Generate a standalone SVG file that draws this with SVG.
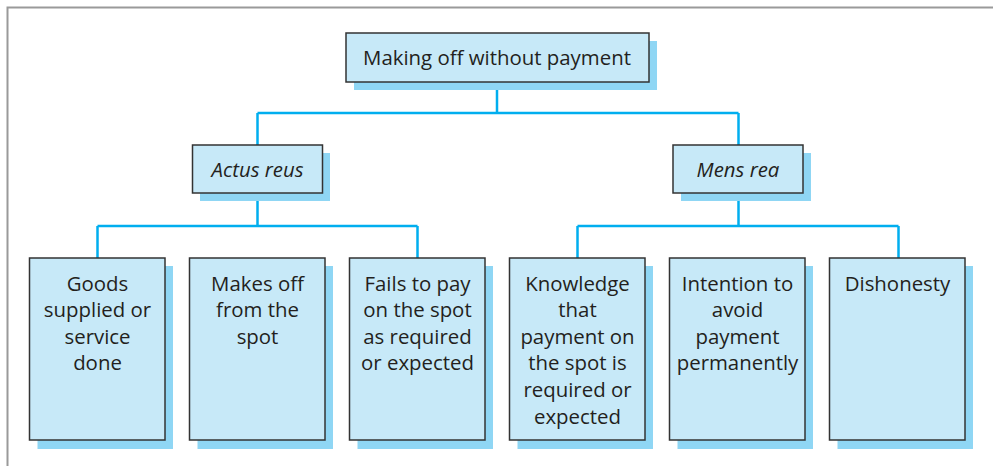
<svg xmlns="http://www.w3.org/2000/svg" width="993" height="466" viewBox="0 0 993 466">
<style>
.shadow{fill:#8fd6f4;stroke:none}
.box{fill:#c7e9f8;stroke:#333;stroke-width:1.5}
.t{font-family:"Open Sans","Noto Sans","DejaVu Sans",sans-serif;font-size:20.4px;fill:#231f20;text-anchor:middle}
.i{font-style:italic}
.conn{fill:none;stroke:#00aeef;stroke-width:2.5}
</style>
<rect x="0" y="0" width="993" height="466" fill="#fff"/>
<path d="M7.5,466 V7.5 H993" fill="none" stroke="#9a9a9a" stroke-width="2"/>
<g id="connectors" class="conn">
<path d="M497,82 V113 M257.5,113 H738.5 M257.5,113 V145 M738.5,113 V145"/>
<path d="M257.5,193 V226 M97.5,226 H417.5 M97.5,226 V258 M417.5,226 V258"/>
<path d="M738.5,193 V226 M577.5,226 H898.5 M577.5,226 V258 M898.5,226 V258"/>
</g>
<g id="root">
<rect class="shadow" x="354" y="41" width="303" height="49"/>
<rect class="box" x="346" y="33" width="303" height="49"/>
<text class="t" x="497" y="64.5">Making off without payment</text>
</g>
<g id="actus">
<rect class="shadow" x="200" y="153" width="130" height="48"/>
<rect class="box" x="192.5" y="145" width="130" height="48"/>
<text class="t i" x="257.5" y="176.5">Actus reus</text>
</g>
<g id="mens">
<rect class="shadow" x="681" y="153" width="130" height="48"/>
<rect class="box" x="673" y="145" width="130" height="48"/>
<text class="t i" x="738" y="176.5">Mens rea</text>
</g>
<g id="goods">
<rect class="shadow" x="37.5" y="266" width="135.5" height="183"/>
<rect class="box" x="29.5" y="258" width="135.5" height="182"/>
<text class="t" x="97.5" y="290.5"><tspan x="97.5">Goods</tspan><tspan x="97.5" dy="26.6">supplied or</tspan><tspan x="97.5" dy="26.6">service</tspan><tspan x="97.5" dy="26.6">done</tspan></text>
</g>
<g id="makes">
<rect class="shadow" x="197.5" y="266" width="135.5" height="183"/>
<rect class="box" x="189.5" y="258" width="135.5" height="182"/>
<text class="t" x="257.5" y="290.5"><tspan x="257.5">Makes off</tspan><tspan x="257.5" dy="26.6">from the</tspan><tspan x="257.5" dy="26.6">spot</tspan></text>
</g>
<g id="fails">
<rect class="shadow" x="357.5" y="266" width="135.5" height="183"/>
<rect class="box" x="349.5" y="258" width="135.5" height="182"/>
<text class="t" x="417.5" y="290.5"><tspan x="417.5">Fails to pay</tspan><tspan x="417.5" dy="26.6">on the spot</tspan><tspan x="417.5" dy="26.6">as required</tspan><tspan x="417.5" dy="26.6">or expected</tspan></text>
</g>
<g id="knowledge">
<rect class="shadow" x="517.5" y="266" width="135.5" height="183"/>
<rect class="box" x="509.5" y="258" width="135.5" height="182"/>
<text class="t" x="577.5" y="290.5"><tspan x="577.5">Knowledge</tspan><tspan x="577.5" dy="26.6">that</tspan><tspan x="577.5" dy="26.6">payment on</tspan><tspan x="577.5" dy="26.6">the spot is</tspan><tspan x="577.5" dy="26.6">required or</tspan><tspan x="577.5" dy="26.6">expected</tspan></text>
</g>
<g id="intention">
<rect class="shadow" x="677.5" y="266" width="135.5" height="183"/>
<rect class="box" x="669.5" y="258" width="135.5" height="182"/>
<text class="t" x="737.5" y="290.5"><tspan x="737.5">Intention to</tspan><tspan x="737.5" dy="26.6">avoid</tspan><tspan x="737.5" dy="26.6">payment</tspan><tspan x="737.5" dy="26.6">permanently</tspan></text>
</g>
<g id="dishonesty">
<rect class="shadow" x="837.5" y="266" width="135.5" height="183"/>
<rect class="box" x="829.5" y="258" width="135.5" height="182"/>
<text class="t" x="897.5" y="290.5">Dishonesty</text>
</g>
</svg>
